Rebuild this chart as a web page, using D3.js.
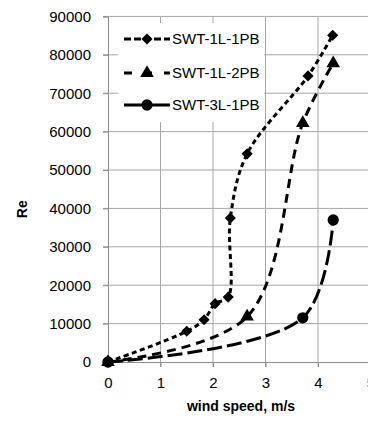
<!DOCTYPE html>
<html>
<head>
<meta charset="utf-8">
<script src="https://cdn.jsdelivr.net/npm/d3@7"></script>
<style>
  body { margin: 0; background: #fff; }
  text { font-family: "Liberation Sans", Arial, sans-serif; fill: #000; }
</style>
</head>
<body>
<div id="chart"></div>
<script>
// chart size
const width = 368;
const height = 421;

// data
const seriesNames = ["SWT-1L-1PB", "SWT-1L-2PB", "SWT-3L-1PB"];
const speed1 = [0, 1.5, 1.83, 2.04, 2.29, 2.33, 2.65, 3.81, 4.28];
const re1    = [0, 8000, 11000, 15200, 16900, 37500, 54200, 74500, 85100];
const speed2 = [0, 2.65, 3.71, 4.29];
const re2    = [0, 11800, 62200, 77800];
const speed3 = [0, 3.71, 4.29];
const re3    = [0, 11500, 37000];
const xTicks = [0, 1, 2, 3, 4, 5];
const yTicks = [0, 10000, 20000, 30000, 40000, 50000, 60000, 70000, 80000, 90000];

const svg = d3.select("#chart")
  .append("svg")
  .attr("width", width)
  .attr("height", height);

// scales
const x = d3.scaleLinear().domain([0, 5]).range([108, 370.5]);
const y = d3.scaleLinear().domain([0, 90000]).range([362, 16.4]);

// gridlines
svg.append("g")
  .selectAll("line.v")
  .data(xTicks.slice(1))
  .enter().append("line")
    .attr("x1", d => x(d)).attr("x2", d => x(d))
    .attr("y1", y(90000)).attr("y2", y(0) + 5)
    .attr("stroke", "#a6a6a6").attr("stroke-width", 1);

svg.append("g")
  .selectAll("line.h")
  .data(yTicks.slice(1))
  .enter().append("line")
    .attr("x1", x(0) - 5).attr("x2", width)
    .attr("y1", d => y(d)).attr("y2", d => y(d))
    .attr("stroke", "#a6a6a6").attr("stroke-width", 1);

// axes
const yAxis = svg.append("g")
  .attr("transform", `translate(${x(0)},0)`)
  .call(d3.axisLeft(y).tickValues(yTicks).tickSize(5).tickPadding(12).tickFormat(d3.format("d")));
yAxis.selectAll("text").attr("font-size", "15px").attr("font-family", "Liberation Sans, Arial, sans-serif");

const xAxis = svg.append("g")
  .attr("transform", `translate(0,${y(0)})`)
  .call(d3.axisBottom(x).tickValues(xTicks).tickSize(5).tickPadding(10).tickFormat(d3.format("d")));
xAxis.selectAll("text").attr("font-size", "15px").attr("font-family", "Liberation Sans, Arial, sans-serif");

svg.selectAll(".domain, .tick line").attr("stroke", "#8c8c8c");
svg.selectAll(".domain").attr("stroke-width", 1);

// legend box (white, covers the grid)
svg.append("rect")
  .attr("x", 118).attr("y", 23)
  .attr("width", 146).attr("height", 99)
  .attr("fill", "#fff");

// lines
const line = d3.line()
  .x(d => x(d[0]))
  .y(d => y(d[1]))
  .curve(d3.curveCatmullRom.alpha(0.5));

const series = [
  { pts: d3.zip(speed1, re1), dash: "5,3.5", marker: "diamond" },
  { pts: d3.zip(speed2, re2), dash: "9,6", marker: "triangle" },
  { pts: d3.zip(speed3, re3), dash: "15,5", marker: "circle" }
];

const symbolFor = {
  diamond: d3.symbol().type(d3.symbolSquare).size(62),
  triangle: d3.symbol().type(d3.symbolTriangle).size(80),
  circle: d3.symbol().type(d3.symbolCircle).size(100)
};
const rotFor = { diamond: 45, triangle: 0, circle: 0 };

series.forEach(s => {
  svg.append("path")
    .datum(s.pts)
    .attr("d", line)
    .attr("fill", "none")
    .attr("stroke", "#000")
    .attr("stroke-width", 3)
    .attr("stroke-dasharray", s.dash);
});

series.forEach(s => {
  svg.append("g")
    .selectAll("path")
    .data(s.pts)
    .enter().append("path")
      .attr("transform", d => `translate(${x(d[0])},${y(d[1])}) rotate(${rotFor[s.marker]})`)
      .attr("d", symbolFor[s.marker])
      .attr("fill", "#000");
});

// legend entries
const legendY = [39, 73, 105];
const legendDash = ["7,3", "8,12", "20,6"];
series.forEach((s, i) => {
  const g = svg.append("g").attr("transform", `translate(124,${legendY[i]})`);
  g.append("line")
    .attr("x1", 0).attr("x2", 46)
    .attr("y1", 0).attr("y2", 0)
    .attr("stroke", "#000").attr("stroke-width", 3)
    .attr("stroke-dasharray", legendDash[i]);
  g.append("path")
    .attr("transform", `translate(23,0) rotate(${rotFor[s.marker]})`)
    .attr("d", symbolFor[s.marker])
    .attr("fill", "#000");
  g.append("text")
    .attr("x", 48).attr("y", 5)
    .attr("font-size", "15px")
    .text(seriesNames[i]);
});

// axis titles
svg.append("text")
  .attr("transform", `translate(27,${(y(0) + y(90000)) / 2 + 20}) rotate(-90)`)
  .attr("text-anchor", "middle")
  .attr("font-size", "14px")
  .attr("font-weight", "bold")
  .text("Re");

svg.append("text")
  .attr("x", 241).attr("y", 411)
  .attr("text-anchor", "middle")
  .attr("font-size", "14px")
  .attr("font-weight", "bold")
  .text("wind speed, m/s");
</script>
</body>
</html>
